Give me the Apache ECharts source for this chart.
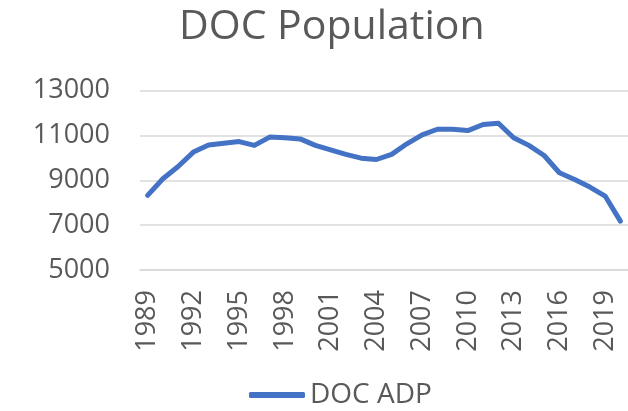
<!DOCTYPE html>
<html>
<head>
<meta charset="utf-8">
<script src="https://cdn.jsdelivr.net/npm/echarts@6/dist/echarts.min.js"></script>
<style>html,body{margin:0;padding:0;background:#fff}#c{width:628px;height:411px}</style>
</head>
<body>
<div id="c"></div>
<script>
const years = ['1989','1990','1991','1992','1993','1994','1995','1996','1997','1998','1999','2000','2001','2002','2003','2004','2005','2006','2007','2008','2009','2010','2011','2012','2013','2014','2015','2016','2017','2018','2019','2020'];
const docADP = [8330,9070,9620,10260,10580,10660,10730,10560,10930,10900,10850,10560,10360,10160,9990,9930,10160,10630,11030,11280,11280,11220,11490,11550,10900,10560,10110,9340,9040,8700,8300,7180];
const yTicks = {min:5000, max:13000, interval:2000};
const font = '"Open Sans", sans-serif';
const chart = echarts.init(document.getElementById('c'));
chart.setOption({
  animation:false,
  title:{text:'DOC Population', left:174, top:2, textStyle:{fontFamily:font, fontSize:41, fontWeight:'normal', color:'#595959'}},
  legend:{data:['DOC ADP'], left:249, top:381, padding:0, icon:'roundRect', itemWidth:56, itemHeight:6, itemGap:5,
    textStyle:{fontFamily:font, fontSize:28, color:'#595959'}},
  grid:{left:140, right:0, top:90.7, bottom:141, containLabel:false},
  xAxis:{type:'category', data:years, boundaryGap:true,
    axisLine:{lineStyle:{color:'#D9D9D9', width:1.5}}, axisTick:{show:false},
    axisLabel:{rotate:90, interval:2, margin:20, fontFamily:font, fontSize:27, color:'#595959'}},
  yAxis:{type:'value', min:yTicks.min, max:yTicks.max, interval:yTicks.interval,
    axisLine:{show:false}, axisTick:{show:false},
    splitLine:{lineStyle:{color:'#D9D9D9', width:1.5}},
    axisLabel:{margin:30, fontFamily:font, fontSize:27, color:'#595959', formatter:v => String(v)}},
  series:[{name:'DOC ADP', type:'line', data:docADP, symbol:'none', smooth:false,
    lineStyle:{color:'#4472C4', width:5, cap:'round', join:'round'}, itemStyle:{color:'#4472C4'}}]
});
</script>
</body>
</html>
